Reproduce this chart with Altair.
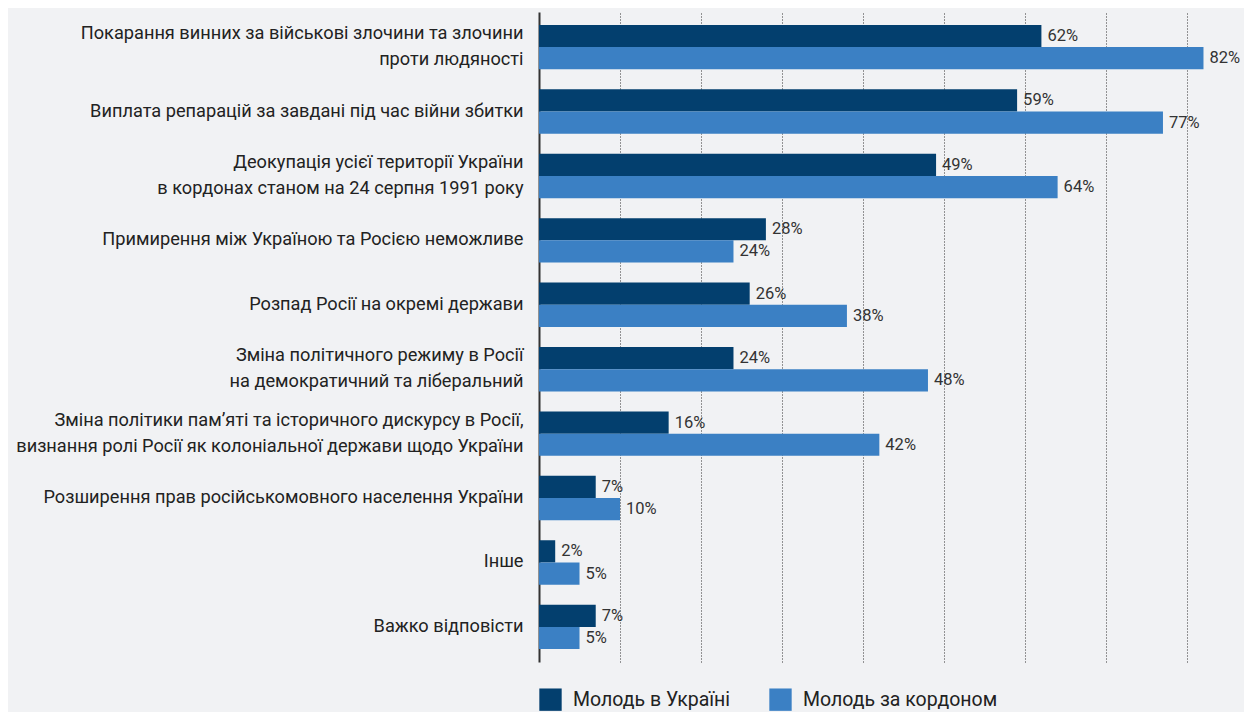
import altair as alt
import pandas as pd

categories = [
    "Покарання винних за військові злочини та злочини\nпроти людяності",
    "Виплата репарацій за завдані під час війни збитки",
    "Деокупація усієї території України\nв кордонах станом на 24 серпня 1991 року",
    "Примирення між Україною та Росією неможливе",
    "Розпад Росії на окремі держави",
    "Зміна політичного режиму в Росії\nна демократичний та ліберальний",
    "Зміна політики пам’яті та історичного дискурсу в Росії,\nвизнання ролі Росії як колоніальної держави щодо України",
    "Розширення прав російськомовного населення України",
    "Інше",
    "Важко відповісти",
]
series = ["Молодь в Україні", "Молодь за кордоном"]
ukraine = [62, 59, 49, 28, 26, 24, 16, 7, 2, 7]
abroad = [82, 77, 64, 24, 38, 48, 42, 10, 5, 5]
colors = ["#033f6e", "#3b80c4"]

rows = []
for c, a, b in zip(categories, ukraine, abroad):
    rows.append({"cat": c, "series": series[0], "value": a, "label": f"{a}%"})
    rows.append({"cat": c, "series": series[1], "value": b, "label": f"{b}%"})
df = pd.DataFrame(rows)

FONT = "Roboto"

y = alt.Y(
    "cat:N",
    sort=categories,
    scale=alt.Scale(paddingInner=0.31, paddingOuter=0.2),
    axis=alt.Axis(
        title=None,
        labelExpr="split(datum.label, '\\n')",
        labelFontSize=18.2,
        labelFont=FONT,
        labelColor="#222222",
        labelLineHeight=26,
        labelPadding=16,
        labelLimit=1000,
        labelOffset={"condition": {"test": "indexof(datum.label, '\\n') >= 0", "value": -13}, "value": 0},
        ticks=False,
        domain=True,
        domainColor="#333333",
        domainWidth=2,
        grid=False,
    ),
)
x = alt.X(
    "value:Q",
    scale=alt.Scale(domain=[0, 87], nice=False),
    axis=alt.Axis(
        title=None,
        labels=False,
        ticks=False,
        domain=False,
        values=[10, 20, 30, 40, 50, 60, 70, 80],
        grid=True,
        gridColor="#333333",
        gridDash=[1, 2],
        gridWidth=1,
    ),
)
yoff = alt.YOffset("series:N", sort=series)

base = alt.Chart(df)
bars = base.mark_bar().encode(
    y=y,
    x=x,
    yOffset=yoff,
    color=alt.Color(
        "series:N",
        sort=series,
        scale=alt.Scale(domain=series, range=colors),
        legend=alt.Legend(
            title=None,
            orient="none",
            legendX=0,
            legendY=676,
            direction="horizontal",
            symbolType="square",
            symbolSize=500,
            symbolStrokeWidth=0,
            symbolOpacity=1,
            labelFont=FONT,
            labelFontSize=19.5,
            labelColor="#222222",
            labelOffset=11,
            labelLimit=400,
            columnPadding=38,
        ),
    ),
)
texts = base.mark_text(
    align="left", baseline="middle", dx=6, fontSize=16.5, font=FONT, color="#333333"
).encode(y=y, x=x, yOffset=yoff, text="label:N")

chart = (
    alt.layer(bars, texts)
    .properties(width=705, height=650, background="#f1f2f4",
                autosize=alt.AutoSizeParams(type="none"),
                padding={"top": 4, "left": 531, "right": 0, "bottom": 50})
    .configure_view(stroke=None)
)
chart.save("out.html", embed_options={"renderer": "svg", "actions": False})
